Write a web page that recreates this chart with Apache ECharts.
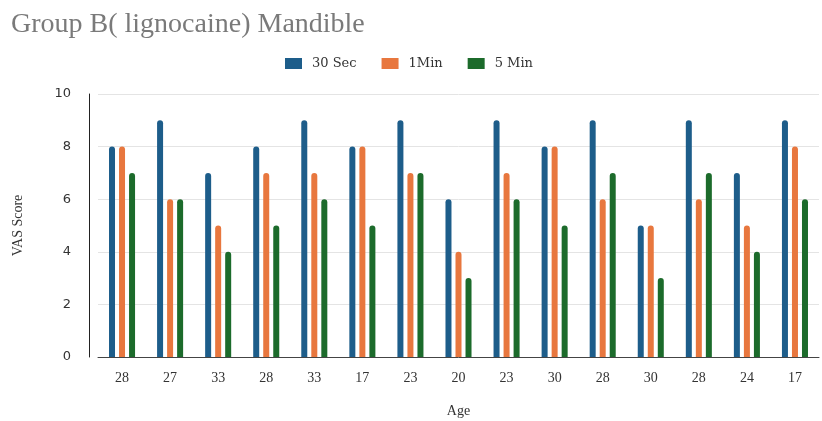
<!DOCTYPE html>
<html>
<head>
<meta charset="utf-8">
<script src="https://cdn.jsdelivr.net/npm/echarts@6/dist/echarts.min.js"></script>
<style>
  html, body { margin: 0; padding: 0; background: #fff; overflow: hidden; }
  #chart { width: 822px; height: 421px; }
</style>
</head>
<body>
<div id="chart"></div>
<script>
// age of each patient (x categories)
const ages = ['28', '27', '33', '28', '33', '17', '23', '20', '23', '30', '28', '30', '28', '24', '17']
// VAS scores
const sec30 = [8, 9, 7, 8, 9, 8, 9, 6, 9, 8, 9, 5, 9, 7, 9]
const min1 = [8, 6, 5, 7, 7, 8, 7, 4, 7, 8, 6, 5, 6, 5, 8]
const min5 = [7, 6, 4, 5, 6, 5, 7, 3, 6, 5, 7, 3, 7, 4, 6]
const yTicks = [0, 2, 4, 6, 8, 10]

const serif = '"Liberation Serif", "DejaVu Serif", serif'

const barStyle = (name, data, color) => ({
  type: 'bar',
  name,
  data,
  barWidth: 6,
  barGap: '67%',
  itemStyle: { color, borderRadius: [3, 3, 0, 0] }
})

const chart = echarts.init(document.getElementById('chart'))
chart.setOption({
  animation: false,
  title: {
    text: 'Group B( lignocaine) Mandible',
    left: 6,
    top: 6,
    textStyle: { fontFamily: serif, fontWeight: 'normal', fontSize: 28, color: '#7a7a7a' }
  },
  legend: {
    top: 52,
    left: 280,
    itemWidth: 17,
    itemHeight: 11,
    itemGap: 25,
    icon: 'rect',
    textStyle: { fontFamily: '"DejaVu Serif", serif', fontSize: 13, color: '#333', padding: [0, 0, 0, 5] },
    data: ['30 Sec', '1Min', '5 Min']
  },
  grid: { left: 98, right: 3, top: 94, bottom: 64, outerBoundsMode: 'none' },
  xAxis: {
    type: 'category',
    data: ages,
    name: 'Age',
    nameLocation: 'middle',
    nameGap: 47,
    nameTextStyle: { fontFamily: serif, fontSize: 14, color: '#333' },
    axisLine: { lineStyle: { color: '#444' } },
    axisTick: { show: false },
    axisLabel: { fontFamily: serif, fontSize: 14, color: '#333', margin: 14 }
  },
  yAxis: {
    type: 'value',
    min: yTicks[0],
    max: yTicks[yTicks.length - 1],
    interval: 2,
    offset: 9,
    name: 'VAS Score',
    nameLocation: 'middle',
    nameGap: 64,
    nameTextStyle: { fontFamily: serif, fontSize: 14, color: '#333' },
    axisLine: { show: true, lineStyle: { color: '#222' } },
    axisTick: { show: false },
    axisLabel: { fontFamily: '"DejaVu Sans", sans-serif', fontSize: 13, color: '#333', margin: 18 },
    splitLine: { lineStyle: { color: '#e4e4e4' } }
  },
  series: [
    barStyle('30 Sec', sec30, '#1d5d8a'),
    barStyle('1Min', min1, '#e8773e'),
    barStyle('5 Min', min5, '#1c6b2b')
  ]
})
</script>
</body>
</html>
